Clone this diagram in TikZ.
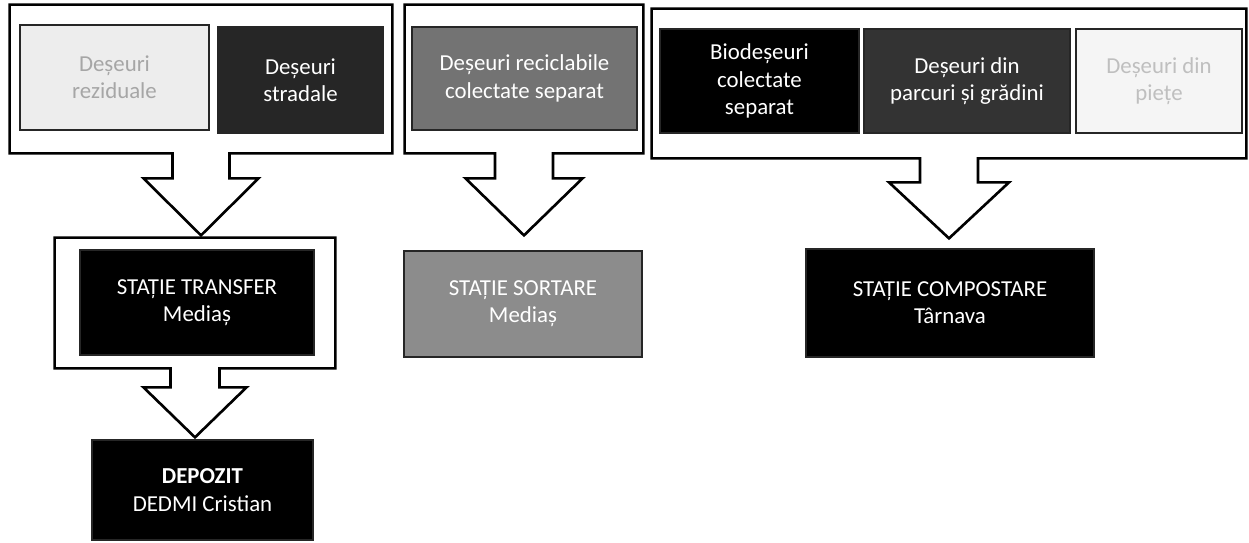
\documentclass[tikz,border=0pt]{standalone}
\usepackage{fontspec}
\setmainfont{Carlito}
\usepackage{tikz}
\usetikzlibrary{calc}

% frame with a block arrow hanging from its lower side
\newcommand{\downcall}[5]{%
  \draw[callout] (#1.south west) -- (#1.north west) -- (#1.north east)
    -- (#1.south east) -- ([xshift=#2]#1.south) -- ([xshift=#2, yshift=-#4]#1.south)
    -- ([xshift=#3, yshift=-#4]#1.south) -- ([yshift=-#4-#5]#1.south)
    -- ([xshift=-#3, yshift=-#4]#1.south) -- ([xshift=-#2, yshift=-#4]#1.south)
    -- ([xshift=-#2]#1.south) -- cycle;}

\begin{document}
\begin{tikzpicture}[
    box/.style={rectangle, draw=black!85, line width=0.7pt, fill=#1, align=center,
      inner sep=2pt, text=white, font=\fontsize{13}{15.5}\selectfont},
    box/.default=black,
    frame/.style={rectangle, inner sep=0pt},
    callout/.style={draw=black, line width=1.5pt, fill=white, line join=miter}
  ]
  \useasboundingbox (0,0) rectangle (24.98,10.84);

  % collection frames
  \node[frame, minimum width=7.64cm, minimum height=2.96cm] (grpa) at (4.02,9.26) {};
  \node[frame, minimum width=4.76cm, minimum height=2.96cm] (grpb) at (10.48,9.26) {};
  \node[frame, minimum width=11.88cm, minimum height=2.98cm] (grpc) at (18.98,9.17) {};
  \node[frame, minimum width=5.60cm, minimum height=2.60cm] (trf) at (3.90,4.78) {};

  \downcall{grpa}{0.57cm}{1.15cm}{0.5cm}{1.14cm}
  \downcall{grpb}{0.58cm}{1.17cm}{0.5cm}{1.14cm}
  \downcall{grpc}{0.58cm}{1.2cm}{0.48cm}{1.12cm}
  \downcall{trf}{0.49cm}{1.03cm}{0.38cm}{1.0cm}

  % waste streams
  \node[box=black!7, text=black!35, minimum width=3.78cm, minimum height=2.10cm]
    (rez) at (2.29,9.29) {Deșeuri\\reziduale};
  \node[box=black!85, minimum width=3.30cm, minimum height=2.12cm]
    (str) at (6.01,9.24) {Deșeuri\\stradale};
  \node[box=black!55, minimum width=4.50cm, minimum height=2.06cm]
    (rec) at (10.49,9.27) {Deșeuri reciclabile\\colectate separat};
  \node[box, minimum width=3.98cm, minimum height=2.08cm]
    (bio) at (15.19,9.22) {Biodeșeuri\\colectate\\separat};
  \node[box=black!80, minimum width=4.12cm, minimum height=2.08cm]
    (prc) at (19.34,9.22) {Deșeuri din\\parcuri și grădini};
  \node[box=black!4, text=black!25, minimum width=3.32cm, minimum height=2.08cm]
    (pie) at (23.18,9.22) {Deșeuri din\\piețe};

  % stations
  \node[box, minimum width=4.68cm, minimum height=2.10cm]
    (tr) at (3.94,4.79) {STAȚIE TRANSFER\\Mediaș};
  \node[box, minimum width=4.42cm, minimum height=2.00cm]
    (dep) at (4.05,1.04) {\textbf{DEPOZIT}\\DEDMI Cristian};
  \node[box=black!45, minimum width=4.76cm, minimum height=2.12cm]
    (srt) at (10.46,4.76) {STAȚIE SORTARE\\Mediaș};
  \node[box, minimum width=5.76cm, minimum height=2.16cm]
    (cmp) at (19.00,4.78) {STAȚIE COMPOSTARE\\Târnava};
\end{tikzpicture}
\end{document}
